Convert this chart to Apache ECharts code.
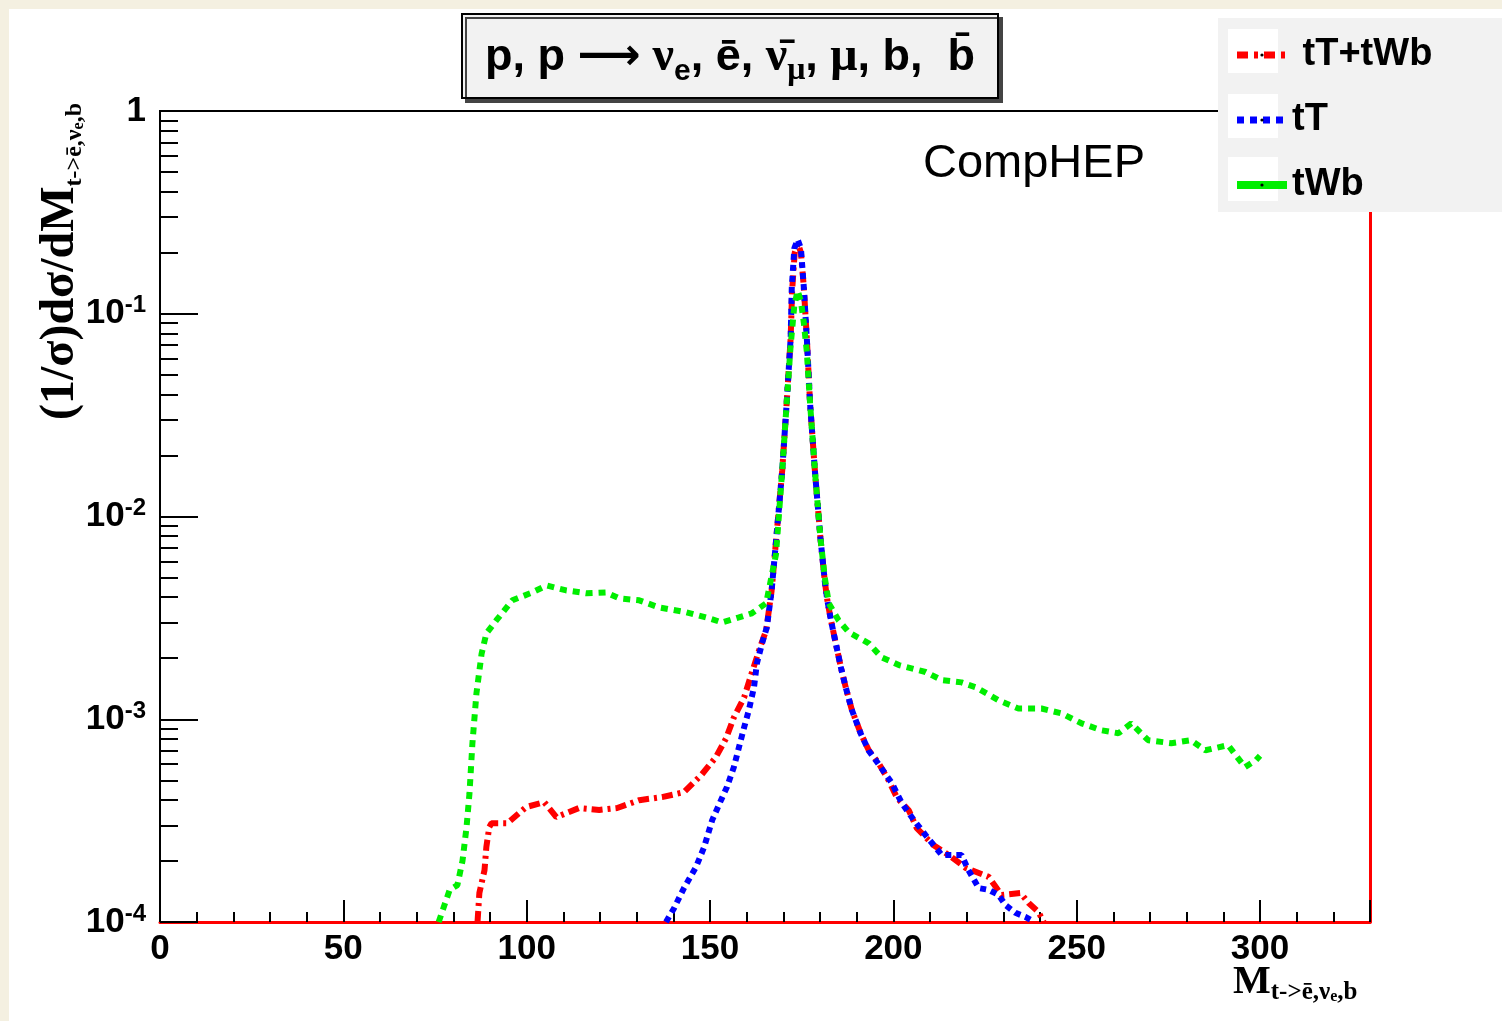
<!DOCTYPE html>
<html lang="en">
<head>
<meta charset="UTF-8">
<title>CompHEP M(t -> e nu b)</title>
<script src="https://cdn.jsdelivr.net/npm/echarts@6/dist/echarts.min.js"></script>
<style>
  body { margin: 0; background: #f4f0e1; }
  #main { position: absolute; left: 9px; top: 9px; width: 1493px; height: 1012px; background: #fff; }
</style>
</head>
<body>
<div id="main"></div>
<script>
// tT+tWb
const ttwbM = [86.6, 87.1, 88.5, 89.0, 89.8, 90.4, 94.7, 99.9, 104.8, 108.1, 114.3, 119.8, 124.7, 130.7, 136.9, 142.9, 147.6, 151.6, 154.4, 156.5, 159.3, 161.2, 163.4, 165.3, 166.8, 168.1, 169.7, 170.9, 172.0, 172.4, 173.1, 174.0, 174.8, 175.6, 176.4, 177.3, 178.6, 180.1, 181.3, 182.0, 183.0, 184.3, 185.7, 187.0, 188.7, 191.1, 193.3, 196.0, 198.7, 201.0, 204.2, 206.4, 211.0, 215.9, 219.7, 226.0, 229.5, 234.7, 236.9, 239.6, 241.0];
const ttwbV = [1.0e-4, 1.39e-4, 1.8e-4, 2.34e-4, 2.94e-4, 3.07e-4, 3.07e-4, 3.69e-4, 3.9e-4, 3.29e-4, 3.65e-4, 3.57e-4, 3.65e-4, 3.99e-4, 4.13e-4, 4.37e-4, 5.3e-4, 6.5e-4, 8.06e-4, 1.02e-3, 1.28e-3, 1.65e-3, 2.19e-3, 2.74e-3, 4.3e-3, 7.9e-3, 0.0169, 0.036, 0.076, 0.13, 0.2, 0.222, 0.2, 0.134, 0.076, 0.036, 0.0169, 7.9e-3, 4.8e-3, 3.86e-3, 3.07e-3, 2.37e-3, 1.8e-3, 1.44e-3, 1.11e-3, 8.53e-4, 7.03e-4, 6.07e-4, 5.0e-4, 4.1e-4, 3.56e-4, 2.9e-4, 2.39e-4, 2.09e-4, 1.85e-4, 1.67e-4, 1.36e-4, 1.39e-4, 1.24e-4, 1.12e-4, 1.0e-4];
// tT
const ttM = [138.0, 140.2, 142.9, 146.2, 148.4, 150.6, 153.0, 154.6, 156.5, 157.9, 159.3, 160.6, 162.0, 162.8, 164.2, 165.5, 166.8, 168.1, 169.7, 170.9, 172.0, 172.3, 173.0, 173.9, 174.8, 175.6, 176.4, 177.3, 178.6, 180.1, 181.3, 182.0, 183.0, 184.3, 185.7, 187.0, 188.7, 191.1, 193.3, 196.0, 199.6, 202.3, 205.6, 208.8, 213.2, 218.6, 220.5, 223.3, 226.0, 228.7, 230.6, 233.3, 236.0, 237.7, 238.5];
const ttV = [1.0e-4, 1.17e-4, 1.47e-4, 1.87e-4, 2.34e-4, 3.18e-4, 3.99e-4, 4.62e-4, 5.8e-4, 7.28e-4, 9.1e-4, 1.11e-3, 1.44e-3, 1.89e-3, 2.37e-3, 2.84e-3, 4.3e-3, 7.9e-3, 0.0169, 0.036, 0.076, 0.134, 0.21, 0.232, 0.21, 0.134, 0.076, 0.036, 0.0169, 7.9e-3, 4.8e-3, 3.86e-3, 3.07e-3, 2.37e-3, 1.8e-3, 1.44e-3, 1.11e-3, 8.5e-4, 7.0e-4, 6.0e-4, 4.84e-4, 3.86e-4, 3.18e-4, 2.68e-4, 2.14e-4, 2.14e-4, 1.8e-4, 1.47e-4, 1.44e-4, 1.36e-4, 1.21e-4, 1.11e-4, 1.06e-4, 1.02e-4, 1.0e-4];
// tWb
const twbM = [76.0, 79.0, 81.1, 82.5, 83.6, 84.4, 85.2, 86.3, 87.7, 89.0, 91.7, 96.1, 101.5, 105.4, 110.8, 116.3, 121.7, 125.2, 130.7, 136.1, 143.5, 149.7, 153.3, 157.9, 161.4, 165.3, 168.0, 169.7, 170.9, 172.0, 173.0, 173.9, 174.8, 175.6, 176.4, 177.3, 178.6, 180.1, 181.3, 182.4, 185.1, 187.9, 193.3, 196.8, 201.5, 208.8, 213.2, 218.6, 222.4, 228.7, 234.1, 240.4, 245.8, 251.3, 256.7, 261.4, 264.9, 269.5, 275.8, 281.2, 285.1, 291.3, 295.9, 298.9, 300.0];
const twbV = [1.0e-4, 1.44e-4, 1.52e-4, 2.0e-4, 2.94e-4, 4.3e-4, 7.6e-4, 1.34e-3, 2.1e-3, 2.65e-3, 3.07e-3, 3.86e-3, 4.22e-3, 4.57e-3, 4.32e-3, 4.18e-3, 4.22e-3, 3.95e-3, 3.86e-3, 3.56e-3, 3.37e-3, 3.15e-3, 3.0e-3, 3.18e-3, 3.33e-3, 3.73e-3, 6.5e-3, 0.0169, 0.036, 0.07, 0.11, 0.13, 0.115, 0.09, 0.065, 0.036, 0.0169, 7.9e-3, 5.0e-3, 3.73e-3, 3.07e-3, 2.68e-3, 2.37e-3, 2.02e-3, 1.85e-3, 1.71e-3, 1.56e-3, 1.52e-3, 1.44e-3, 1.24e-3, 1.13e-3, 1.13e-3, 1.07e-3, 9.55e-4, 8.83e-4, 8.53e-4, 9.55e-4, 7.88e-4, 7.62e-4, 7.88e-4, 7.03e-4, 7.45e-4, 5.8e-4, 6.28e-4, 6.6e-4];

// small ticks
const xMinorTicks = [10, 20, 30, 40, 60, 70, 80, 90, 110, 120, 130, 140, 160, 170, 180, 190, 210, 220, 230, 240, 260, 270, 280, 290, 310, 320];
const yMinorTicks = [2e-4, 3e-4, 4e-4, 5e-4, 6e-4, 7e-4, 8e-4, 9e-4,
                     2e-3, 3e-3, 4e-3, 5e-3, 6e-3, 7e-3, 8e-3, 9e-3,
                     2e-2, 3e-2, 4e-2, 5e-2, 6e-2, 7e-2, 8e-2, 9e-2,
                     0.2, 0.3, 0.4, 0.5, 0.6, 0.7, 0.8, 0.9];

function zip(m, v) {
    return m.map(function (x, i) { return [x, v[i]]; });
}

const sans = 'Liberation Sans';
const serif = 'Liberation Serif';

var myChart = echarts.init(document.getElementById('main'));
var option = {
    animation: false,
    title: [{
        // 过程
        text: '{a|p, p }{arr|⟶}{g| ν}{sb|e}{a|, ē, }{g|ν̄}{sg|μ}{a|, }{g|μ}{a|, b,  b̄}',
        left: 453,
        top: 0,
        padding: [20, 23, 11, 23],
        backgroundColor: '#f2f2f2',
        borderColor: '#000',
        borderWidth: 2,
        shadowColor: '#444',
        shadowOffsetX: 4,
        shadowOffsetY: 4,
        textStyle: {
            rich: {
                a: { fontFamily: sans, fontWeight: 'bold', fontSize: 45, color: '#000', lineHeight: 58 },
                arr: { fontFamily: 'DejaVu Sans', fontSize: 44, color: '#000', lineHeight: 58 },
                g: { fontFamily: serif, fontSize: 48, color: '#000', lineHeight: 58 },
                sb: { fontFamily: sans, fontWeight: 'bold', fontSize: 30, color: '#000', lineHeight: 42, verticalAlign: 'bottom' },
                sg: { fontFamily: serif, fontSize: 32, color: '#000', lineHeight: 42, verticalAlign: 'bottom' }
            }
        }
    }, {
        text: 'CompHEP',
        left: 914,
        top: 132,
        padding: 0,
        textStyle: { fontFamily: sans, fontWeight: 'normal', fontSize: 47, color: '#000' }
    }],
    legend: {
        orient: 'vertical',
        left: 1219,
        top: 19,
        itemWidth: 50,
        itemHeight: 4,
        itemGap: 21,
        itemStyle: { color: '#000', borderWidth: 0 },
        data: [
            { name: 'tT+tWb', lineStyle: { width: 7, type: [11, 6, 4, 6] } },
            { name: 'tT', lineStyle: { width: 7, type: [7, 6] } },
            { name: 'tWb', lineStyle: { type: 'solid', width: 8 } }
        ],
        formatter: function (name) {
            return name === 'tT+tWb' ? ' ' + name : name;
        },
        textStyle: { fontFamily: sans, fontWeight: 'bold', fontSize: 38, lineHeight: 44, color: '#000' }
    },
    graphic: [
        // 图例底色
        { type: 'rect', z: 3, shape: { x: 1209, y: 9, width: 293, height: 194 }, style: { fill: '#f2f2f2' } },
        { type: 'rect', z: 3, shape: { x: 1219, y: 20, width: 50, height: 44 }, style: { fill: '#fff' } },
        { type: 'rect', z: 3, shape: { x: 1219, y: 85, width: 50, height: 44 }, style: { fill: '#fff' } },
        { type: 'rect', z: 3, shape: { x: 1219, y: 148, width: 50, height: 44 }, style: { fill: '#fff' } },
        // y 轴标题
        {
            type: 'text', x: 52, y: 411, rotation: Math.PI / 2,
            style: {
                text: '{m|(1/σ)dσ/dM}{s|t->ē,ν}{ss|e}{s|,b}',
                align: 'left', verticalAlign: 'middle',
                rich: {
                    m: { fontFamily: serif, fontWeight: 'bold', fontSize: 48, lineHeight: 52, fill: '#000' },
                    s: { fontFamily: serif, fontWeight: 'bold', fontSize: 24, lineHeight: 30, verticalAlign: 'bottom', fill: '#000' },
                    ss: { fontFamily: serif, fontWeight: 'bold', fontSize: 16, lineHeight: 20, verticalAlign: 'bottom', fill: '#000' }
                }
            }
        },
        // x 轴标题
        {
            type: 'text', x: 1224, y: 952,
            style: {
                text: '{m|M}{s|t->ē,ν}{ss|e}{s|,b}',
                align: 'left', verticalAlign: 'top',
                rich: {
                    m: { fontFamily: serif, fontWeight: 'bold', fontSize: 40, lineHeight: 44, fill: '#000' },
                    s: { fontFamily: serif, fontWeight: 'bold', fontSize: 25, lineHeight: 30, verticalAlign: 'bottom', fill: '#000' },
                    ss: { fontFamily: serif, fontWeight: 'bold', fontSize: 16, lineHeight: 20, verticalAlign: 'bottom', fill: '#000' }
                }
            }
        }
    ],
    grid: {
        left: 151, right: 132, top: 102, bottom: 99,
        show: true, borderColor: '#000', borderWidth: 2, backgroundColor: 'transparent'
    },
    xAxis: [{
        type: 'value', position: 'bottom', min: 0, max: 330, interval: 50,
        axisLine: { onZero: false, lineStyle: { color: '#ff0000', width: 3 } },
        axisTick: { inside: true, length: 22, lineStyle: { color: '#000', width: 2 } },
        splitLine: { show: false },
        axisLabel: {
            margin: 10, fontFamily: sans, fontWeight: 'bold', fontSize: 35, color: '#000',
            formatter: function (v) { return v > 300 ? '' : String(v); }
        }
    }, {
        type: 'value', position: 'bottom', min: 0, max: 330,
        axisLine: { show: false },
        axisTick: { inside: true, length: 10, customValues: xMinorTicks, lineStyle: { color: '#000', width: 2 } },
        splitLine: { show: false },
        axisLabel: { show: false }
    }],
    yAxis: [{
        type: 'log', logBase: 10, position: 'left', min: 1e-4, max: 1,
        axisLine: { onZero: false, lineStyle: { color: '#000', width: 2 } },
        axisTick: { inside: true, length: 38, lineStyle: { color: '#000', width: 2 } },
        splitLine: { show: false },
        axisLabel: {
            margin: 14,
            formatter: function (v) {
                const e = Math.round(Math.log10(v));
                return e === 0 ? '{b|1}' : '{b|10}{s|' + e + '}';
            },
            rich: {
                b: { fontFamily: sans, fontWeight: 'bold', fontSize: 35, color: '#000', lineHeight: 40 },
                s: { fontFamily: sans, fontWeight: 'bold', fontSize: 24, color: '#000', lineHeight: 24, verticalAlign: 'top' }
            }
        }
    }, {
        type: 'log', logBase: 10, position: 'left', min: 1e-4, max: 1,
        axisLine: { show: false, onZero: false },
        axisTick: { inside: true, length: 18, customValues: yMinorTicks, lineStyle: { color: '#000', width: 2 } },
        splitLine: { show: false },
        axisLabel: { show: false }
    }, {
        type: 'log', logBase: 10, position: 'right', min: 1e-4, max: 1,
        axisLine: { show: true, onZero: false, lineStyle: { color: '#ff0000', width: 3 } },
        axisTick: { show: false },
        splitLine: { show: false },
        axisLabel: { show: false }
    }],
    series: [{
        name: 'tT+tWb', type: 'line', showSymbol: false, symbol: 'none',
        data: zip(ttwbM, ttwbV),
        lineStyle: { color: '#ff0000', width: 6, type: [11, 5, 3, 5] }
    }, {
        name: 'tT', type: 'line', showSymbol: false, symbol: 'none',
        data: zip(ttM, ttV),
        lineStyle: { color: '#0000ff', width: 6, type: [6, 5] }
    }, {
        name: 'tWb', type: 'line', showSymbol: false, symbol: 'none',
        data: zip(twbM, twbV),
        lineStyle: { color: '#00ee00', width: 6, type: [7, 6] }
    }]
};

myChart.setOption(option);
</script>
</body>
</html>
